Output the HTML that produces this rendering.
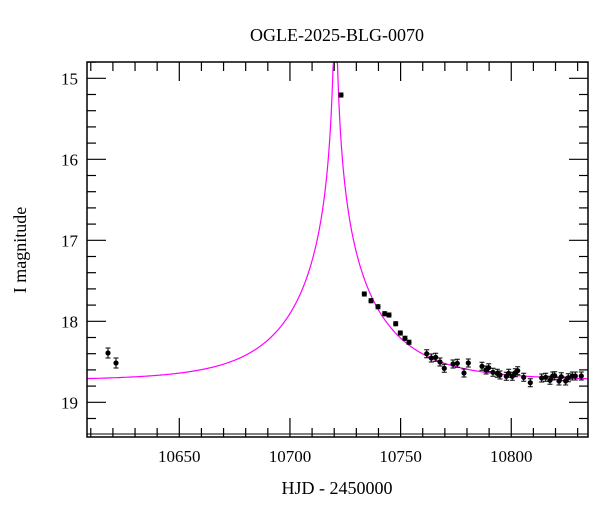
<!DOCTYPE html>
<html><head><style>
body{margin:0;background:#fff}
svg text{font-family:"Liberation Serif",serif;fill:#000}
</style></head><body>
<svg id="s" width="600" height="512" xmlns="http://www.w3.org/2000/svg">
<text x="337" y="41" font-size="18" text-anchor="middle">OGLE-2025-BLG-0070</text>
<text x="337" y="494" font-size="18" text-anchor="middle">HJD - 2450000</text>
<text transform="translate(26,250) rotate(-90)" font-size="18" text-anchor="middle">I magnitude</text>
<g id="ticks" stroke="#000" stroke-width="1.2"></g>
<g id="lab" font-size="17"></g>
<path id="model" fill="none" stroke="#ff00ff" stroke-width="1.2"/>
<g id="pts"></g>
<rect x="87" y="62" width="501" height="375" fill="none" stroke="#000" stroke-width="1.5"/>
<line x1="87" y1="434" x2="588" y2="434" stroke="#000" stroke-width="1"/>
</svg>
<script>
var X=function(t){return 179.3+(t-10650)*2.213};
var Y=function(m){return 78.3+(m-15)*81};
var T=document.getElementById('ticks'),L=document.getElementById('lab'),h='',l='';
for(var t=10610;t<=10830;t+=10){var x=X(t),maj=(t%50==0),len=maj?19:9;
h+='<line x1="'+x+'" y1="62" x2="'+x+'" y2="'+(62+len)+'"/><line x1="'+x+'" y1="437" x2="'+x+'" y2="'+(437-len)+'"/>';
if(maj)l+='<text x="'+x+'" y="462" text-anchor="middle">'+t+'</text>';}
for(var i=0;i<=22;i++){var m=14.8+i*0.2;if(m>19.45)break;var y=Y(m),maj=Math.abs(m-Math.round(m))<0.01,len=maj?19:9;
h+='<line x1="87" y1="'+y+'" x2="'+(87+len)+'" y2="'+y+'"/><line x1="588" y1="'+y+'" x2="'+(588-len)+'" y2="'+y+'"/>';
if(maj)l+='<text x="78" y="'+(y+6)+'" text-anchor="end">'+Math.round(m)+'</text>';}
T.innerHTML=h;L.innerHTML=l;
var d='',t0=10720.5,tE=40,u0=0.012,base=18.73;
for(var x=87;x<=588;x+=0.5){var t=10650+(x-179.3)/2.213,tau=(t-t0)/tE,u=Math.sqrt(u0*u0+tau*tau),A=(u*u+2)/(u*Math.sqrt(u*u+4));
var y=Y(base-2.5*Math.log10(A));if(y<62)y=62;d+=(d?'L':'M')+x.toFixed(1)+' '+y.toFixed(1);}
document.getElementById('model').setAttribute('d',d);
var P=[[108,353],[116,363],[341,95],[364.3,294],[371,300.7],[378,306.7],[384.7,313.7],[389,315],[395.7,323.7],[400.3,333],[405,338.3],[409,342.3],[426.7,353.7],[431.3,358],[435.7,357.3],[440,362],[444.3,368.3],[453,364],[457.3,363.3],[464,373],[468.3,363],[482,366.3],[486,370],[488.7,367.7],[493,372.3],[497.3,373.3],[500,375],[506.3,376.3],[508.7,373.3],[512.3,376.3],[515.3,372.7],[517.7,370.7],[523.7,377.3],[530.3,382.7],[541.7,378],[545.7,377.3],[550,380.3],[552.7,376],[554.7,375.7],[559,381],[561.3,376.7],[565.7,381],[568.3,377.7],[572.3,376],[575.3,376],[581.3,376]];
var s='';P.forEach(function(p,i){var e=(i<2)?5:(p[0]>420?4:2);
s+='<path d="M'+p[0]+' '+(p[1]-e)+'V'+(p[1]+e)+'M'+(p[0]-2.5)+' '+(p[1]-e)+'h5M'+(p[0]-2.5)+' '+(p[1]+e)+'h5" stroke="#000" stroke-width="1"/><circle cx="'+p[0]+'" cy="'+p[1]+'" r="2.6" fill="#000"/>';});
document.getElementById('pts').innerHTML=s;
</script>
</body></html>
